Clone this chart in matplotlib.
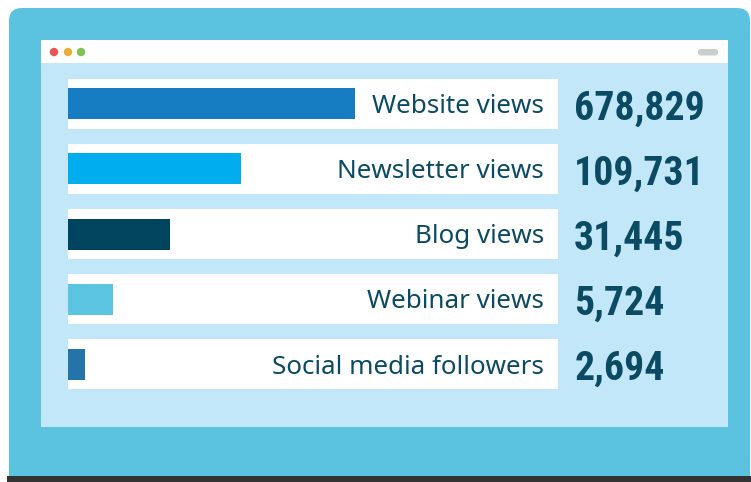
import matplotlib
matplotlib.use("Agg")
import matplotlib.pyplot as plt
from matplotlib import font_manager
from matplotlib.patches import Rectangle, FancyBboxPatch, Circle
from matplotlib.transforms import offset_copy

# data
labels = ["Website views", "Newsletter views", "Blog views", "Webinar views", "Social media followers"]
values = [678829, 109731, 31445, 5724, 2694]
# bar lengths as drawn in the graphic (% of the row box), not proportional to values
bar_share = [58.6, 35.3, 20.8, 9.2, 3.5]
bar_colors = ["#177dc2", "#00aeef", "#00445e", "#5bc4e0", "#2474a9"]

TEAL = "#5bc2df"
SCREEN = "#c2e7f8"
TXT = "#0b4a63"

# look for a condensed bold face for the big numbers
num_font = None
for fam in ["Liberation Sans Narrow", "DejaVu Sans Condensed", "Roboto Condensed",
            "Open Sans Condensed", "Noto Sans Condensed", "DejaVu Sans"]:
    for st in ["condensed", "normal"]:
        fp = font_manager.FontProperties(family=fam, weight="bold", stretch=st)
        try:
            path = font_manager.findfont(fp, fallback_to_default=False)
        except Exception:
            continue
        if "ondensed" in path or "Narrow" in path:
            num_font = font_manager.FontProperties(fname=path)
            break
    if num_font is not None:
        break
if num_font is None:
    num_font = font_manager.FontProperties(family="Roboto", weight="bold")
    num_size = 26
else:
    num_size = 28.6

W, H = 751, 482
fig = plt.figure(figsize=(W / 100, H / 100), dpi=100)
fig.patch.set_facecolor("white")

# ---------- background frame (pixel coordinates) ----------
bg = fig.add_axes([0, 0, 1, 1])
bg.set_xlim(0, W)
bg.set_ylim(H, 0)
bg.axis("off")

bg.add_patch(FancyBboxPatch((9, 8), 741, 500, boxstyle="round,pad=0,rounding_size=13",
                            fc=TEAL, ec="none"))
bg.add_patch(Rectangle((7, 476), 750, 10, fc="#333333", ec="none"))
bg.add_patch(Rectangle((41, 40), 687, 23, fc="white", ec="none"))
bg.add_patch(Rectangle((41, 63), 687, 364, fc=SCREEN, ec="none"))
for cx, c in zip([54, 68, 81], ["#ec5454", "#e9ac37", "#7bc24f"]):
    bg.add_patch(Circle((cx, 52), 4.2, fc=c, ec="none"))
bg.add_patch(FancyBboxPatch((698, 49), 20, 6.5, boxstyle="round,pad=0,rounding_size=3.2",
                            fc="#cccccc", ec="none"))

# ---------- bars ----------
x0, x1 = 68, 558
top, bottom = 71.5, 396.5
ax = fig.add_axes([x0 / W, 1 - bottom / H, (x1 - x0) / W, (bottom - top) / H])
ax.set_xlim(0, 100)
ax.set_ylim(len(labels) - 0.5, -0.5)
ax.axis("off")

rows = list(range(len(labels)))
ax.barh(rows, [100] * len(rows), height=50 / 65, left=0, color="white", zorder=1)
ax.barh(rows, bar_share, height=31 / 65, left=0, color=bar_colors, zorder=2)

lab_tr = offset_copy(ax.transData, fig=fig, x=0, y=-9.5, units="dots")
num_tr = offset_copy(ax.transData, fig=fig, x=0, y=-15.5, units="dots")
for i, (lab, v) in enumerate(zip(labels, values)):
    ax.text(97.1, i, lab, transform=lab_tr, ha="right", va="baseline",
            fontsize=18.7, color=TXT, family="Noto Sans", zorder=3)
    ax.text(103.3, i, f"{v:,}", transform=num_tr, ha="left", va="baseline",
            fontproperties=num_font, fontsize=num_size, fontweight="bold", color=TXT,
            clip_on=False, zorder=3)

fig.savefig("out.png", dpi=100, facecolor="white")
